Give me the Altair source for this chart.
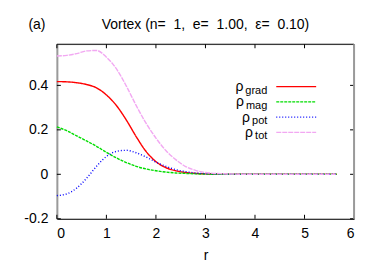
import altair as alt
import pandas as pd

# ---- data ----
r = [0.0, 0.2, 0.4, 0.6, 0.8, 1.0, 1.2, 1.4, 1.6, 1.8, 2.0, 2.2, 2.4, 2.6, 2.8, 3.0, 3.3, 3.6, 4.0, 5.0, 5.65]
rho_grad = [0.417, 0.416, 0.412, 0.404, 0.389, 0.357, 0.310, 0.245, 0.170, 0.103, 0.057, 0.030, 0.016, 0.008, 0.004, 0.002, 0.001, 0.0, 0.0, 0.0, 0.0]
rho_mag = [0.213, 0.196, 0.173, 0.150, 0.126, 0.099, 0.074, 0.053, 0.036, 0.024, 0.016, 0.010, 0.006, 0.004, 0.002, 0.001, 0.0, 0.0, 0.0, 0.0, 0.0]
rho_pot = [-0.096, -0.088, -0.062, -0.018, 0.036, 0.080, 0.103, 0.108, 0.097, 0.078, 0.055, 0.036, 0.021, 0.012, 0.006, 0.003, 0.001, 0.0, 0.0, 0.0, 0.0]
rho_tot = [0.532, 0.535, 0.543, 0.555, 0.557, 0.527, 0.475, 0.398, 0.310, 0.230, 0.163, 0.107, 0.066, 0.035, 0.018, 0.008, 0.003, 0.001, 0.0, 0.0, 0.0]

series = ["grad", "mag", "pot", "tot"]
colors = ["#ff0000", "#00dd00", "#0000ff", "#f2a8f2"]
dashes = [[1, 0], [3, 1], [1, 2], [5, 1]]

x_ticks = [0, 1, 2, 3, 4, 5, 6]
y_ticks = [-0.2, 0.0, 0.2, 0.4]
x_domain = [0, 6]
y_domain = [-0.2, 0.585]

panel_label = "(a)"
title_text = "Vortex (n=\u00a0 1,\u00a0 e=\u00a0 1.00,\u00a0 \u03b5=\u00a0 0.10)"
x_title = "r"

# ---- build tables ----
values = {"grad": rho_grad, "mag": rho_mag, "pot": rho_pot, "tot": rho_tot}
rows = []
for s in series:
    for ri, v in zip(r, values[s]):
        rows.append({"r": ri, "rho": v, "series": s})
df = pd.DataFrame(rows)

W, H = 298, 175
FONT = "Liberation Sans"

xs = alt.Scale(domain=x_domain, nice=False, zero=False)
ys = alt.Scale(domain=y_domain, nice=False, zero=False)

x_axis = alt.Axis(values=x_ticks, ticks=False, grid=False,
                  labelPadding=8, labelFontSize=14, labelColor="black",
                  domainColor="black", domainWidth=1,
                  title=x_title, titleFontSize=14, titleFontWeight="normal",
                  titlePadding=8, titleColor="black", labelFont=FONT, titleFont=FONT)
y_axis = alt.Axis(values=y_ticks, ticks=False, grid=False,
                  labelPadding=9, labelFontSize=14, labelColor="black",
                  domainColor="#9a9a9a", domainWidth=2, title=None,
                  labelFont=FONT,
                  labelExpr="datum.value < 0 ? '-' + format(-datum.value, '~g') : format(datum.value, '~g')")

color_scale = alt.Scale(domain=series, range=colors)
dash_scale = alt.Scale(domain=series, range=dashes)

lines = alt.Chart(df).mark_line(strokeWidth=1.4, interpolate="monotone").encode(
    x=alt.X("r:Q", scale=xs, axis=x_axis),
    y=alt.Y("rho:Q", scale=ys, axis=y_axis),
    color=alt.Color("series:N", scale=color_scale, legend=None),
    strokeDash=alt.StrokeDash("series:N", scale=dash_scale, legend=None),
    order=alt.Order("r:Q"),
)

# inward ticks
xt = pd.DataFrame({"r": x_ticks})
yt = pd.DataFrame({"rho": y_ticks})
xtick_b = alt.Chart(xt).mark_rule(color="black").encode(
    x=alt.X("r:Q", scale=xs, axis=x_axis), y=alt.value(H), y2=alt.value(H - 4))
xtick_t = alt.Chart(xt).mark_rule(color="black").encode(
    x=alt.X("r:Q", scale=xs, axis=x_axis), y=alt.value(0), y2=alt.value(4))
ytick_l = alt.Chart(yt).mark_rule(color="black").encode(
    y=alt.Y("rho:Q", scale=ys, axis=y_axis), x=alt.value(0), x2=alt.value(4))
ytick_r = alt.Chart(yt).mark_rule(color="black").encode(
    y=alt.Y("rho:Q", scale=ys, axis=y_axis), x=alt.value(W - 4), x2=alt.value(W))

# borders (top black, right grey)
one = pd.DataFrame({"k": [0]})
top_border = alt.Chart(one).mark_rule(color="black", strokeWidth=1).encode(
    x=alt.value(0), x2=alt.value(W), y=alt.value(0))
right_border = alt.Chart(one).mark_rule(color="#9a9a9a", strokeWidth=2).encode(
    x=alt.value(W), y=alt.value(0), y2=alt.value(H))

# legend (manual, with subscripts)
char_w = {"g": 6.1, "r": 3.7, "a": 6.1, "d": 6.1, "m": 9.2, "p": 6.1, "o": 6.1, "t": 3.1}
text_right = 211
leg = pd.DataFrame({
    "series": series,
    "row": list(range(len(series))),
    "subw": [sum(char_w.get(c, 6.1) for c in s) for s in series],
})
leg_base = alt.Chart(leg).transform_calculate(
    py="42.5 + datum.row * 15.3",
    rx=f"{text_right} - datum.subw - 2",
)
leg_lines = leg_base.mark_rule(strokeWidth=1.4).encode(
    x=alt.value(220), x2=alt.value(260),
    y=alt.Y("py:Q", scale=None),
    color=alt.Color("series:N", scale=color_scale, legend=None),
    strokeDash=alt.StrokeDash("series:N", scale=dash_scale, legend=None),
)
leg_rho = leg_base.mark_text(align="right", baseline="alphabetic", fontSize=14, font=FONT,
                             color="black", dy=4.5).encode(
    x=alt.X("rx:Q", scale=None),
    y=alt.Y("py:Q", scale=None),
    text=alt.value("\u03c1"),
)
leg_sub = leg_base.mark_text(align="right", baseline="alphabetic", fontSize=11, font=FONT,
                             color="black", dy=7).encode(
    x=alt.value(text_right),
    y=alt.Y("py:Q", scale=None),
    text="series:N",
)

# titles
tdf = pd.DataFrame({"label": [panel_label], "title": [title_text]})
t_panel = alt.Chart(tdf).mark_text(align="center", baseline="alphabetic", fontSize=14, font=FONT,
                                   color="black").encode(
    x=alt.value(-20), y=alt.value(-15), text="label:N")
t_main = alt.Chart(tdf).mark_text(align="center", baseline="alphabetic", fontSize=14, font=FONT,
                                  color="black").encode(
    x=alt.value(W / 2), y=alt.value(-15), text="title:N")

chart = alt.layer(
    lines, xtick_b, xtick_t, ytick_l, ytick_r, top_border, right_border,
    leg_lines, leg_rho, leg_sub, t_panel, t_main,
).properties(
    width=W, height=H,
    autosize=alt.AutoSizeParams(type="none"),
    padding={"left": 49, "top": 36, "right": 20, "bottom": 46},
).configure_view(stroke=None).configure(background="white")

chart.save("out.html", embed_options={"renderer": "svg", "actions": False})
